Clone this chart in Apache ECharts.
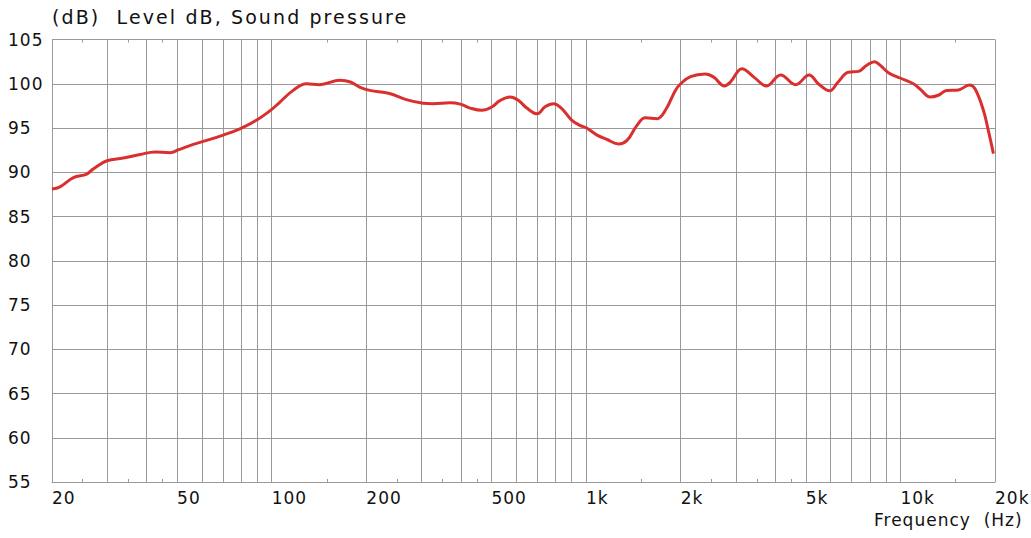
<!DOCTYPE html>
<html>
<head>
<meta charset="utf-8">
<script src="https://cdn.jsdelivr.net/npm/echarts@6/dist/echarts.min.js"></script>
<style>
html,body{margin:0;padding:0;background:#fff;}
#c{width:1031px;height:538px;}
#c svg text{white-space:pre;}
</style>
</head>
<body>
<div id="c"></div>
<script>
// Frequency (Hz) and sound pressure level (dB)
const freqHz = [20, 21.2, 23.4, 25.8, 27.1, 29.9, 33.7, 38.1, 42.5, 47.5, 50.6, 56.3, 62.1, 70.1, 79.2, 89.6,
  100, 106, 117, 129, 142, 165, 178, 191, 205, 237, 268, 303, 326, 369, 398, 428, 466, 503, 532, 574, 610, 648,
  700, 741, 788, 837, 900, 956, 1004, 1084, 1166, 1270, 1350, 1452, 1544, 1682, 1788, 1924, 2000, 2150, 2393,
  2548, 2756, 2880, 3134, 3420, 3754, 4158, 4644, 5126, 5480, 5952, 6338, 6828, 7356, 7820, 8280, 8618, 9160,
  9978, 11000, 11560, 12430, 13200, 14050, 15300, 16580, 17290, 18370, 19050, 19770];
const levelDb = [88.1, 88.35, 89.4, 89.8, 90.4, 91.3, 91.6, 92.0, 92.3, 92.2, 92.55, 93.15, 93.6, 94.2, 94.9, 95.9,
  97.1, 97.9, 99.25, 100.0, 99.9, 100.4, 100.2, 99.6, 99.25, 98.9, 98.2, 97.8, 97.75, 97.85, 97.7, 97.25, 97.0,
  97.4, 98.1, 98.5, 98.1, 97.25, 96.6, 97.4, 97.75, 97.2, 95.9, 95.3, 95.0, 94.2, 93.7, 93.2, 93.6, 95.3, 96.15,
  96.05, 97.0, 99.25, 100.0, 100.8, 101.1, 100.75, 99.75, 100.2, 101.7, 100.75, 99.75, 101.0, 99.9, 101.0, 100.0,
  99.2, 100.2, 101.3, 101.4, 102.1, 102.5, 102.1, 101.25, 100.65, 100.0, 99.4, 98.5, 98.7, 99.25, 99.3, 99.85,
  99.4, 97.0, 94.7, 92.1];
const gridFreqs = [20, 30, 40, 50, 60, 70, 80, 90, 100, 200, 300, 400, 500, 600, 700, 800, 900,
  1000, 2000, 3000, 4000, 5000, 6000, 7000, 8000, 9000, 10000, 20000];
const labelFreqs = [20, 50, 100, 200, 500, 1000, 2000, 5000, 10000, 20000];
const labelTexts = ['20', '50', '100', '200', '500', '1k', '2k', '5k', '10k', '20k'];
const minorFreqs = [25, 35, 45, 150, 250, 350, 450, 1500, 2500, 3500, 4500, 15000];
const titleText = '(dB)  Level dB, Sound pressure';
const xNameText = 'Frequency  (Hz)';

const FONT = 'DejaVu Sans';
const LINE = '#999999';
const TXT = '#111111';
const chart = echarts.init(document.getElementById('c'), null, {renderer: 'svg'});

const labelMap = {};
labelFreqs.forEach((f, i) => { labelMap[f] = labelTexts[i]; });

const minorAxis = (pos) => ({
  type: 'log', logBase: 10, min: 20, max: 20000, position: pos, gridIndex: 0,
  axisLine: {show: false},
  axisTick: {show: true, inside: true, length: 3, customValues: minorFreqs, lineStyle: {color: LINE}},
  axisLabel: {show: false},
  splitLine: {show: false}
});

chart.setOption({
  animation: false,
  backgroundColor: '#fff',
  title: [
    {text: titleText, left: 52, top: 7, padding: 0,
     textStyle: {fontFamily: FONT, fontSize: 19, fontWeight: 'normal', color: TXT}},
    {text: xNameText, left: 874, top: 511, padding: 0,
     textStyle: {fontFamily: FONT, fontSize: 17, fontWeight: 'normal', color: TXT}}
  ],
  grid: {left: 52, right: 36, top: 39.5, bottom: 56, containLabel: false},
  xAxis: [
    {
      type: 'log', logBase: 10, min: 20, max: 20000, position: 'bottom',
      axisLine: {show: true, lineStyle: {color: LINE, width: 1}},
      axisTick: {show: false, customValues: gridFreqs},
      axisLabel: {
        show: true, customValues: labelFreqs, align: 'left', margin: 7,
        fontFamily: FONT, fontSize: 17, color: TXT,
        formatter: (v) => labelMap[Math.round(v)] || ''
      },
      splitLine: {show: true, lineStyle: {color: LINE, width: 1}}
    },
    minorAxis('bottom'),
    minorAxis('top')
  ],
  yAxis: {
    type: 'value', min: 55, max: 105, interval: 5,
    axisLine: {show: true, lineStyle: {color: LINE, width: 1}},
    axisTick: {show: false},
    axisLabel: {
      align: 'left', margin: 44, verticalAlign: 'middle', padding: [0, 0, 7, 0],
      fontFamily: FONT, fontSize: 17, color: TXT
    },
    splitLine: {show: true, lineStyle: {color: LINE, width: 1}}
  },
  series: [{
    type: 'line', xAxisIndex: 0,
    data: freqHz.map((f, i) => [f, levelDb[i]]),
    smooth: 0.4, symbol: 'none',
    lineStyle: {color: '#d9302f', width: 3},
    z: 5
  }]
});

function applySpacing() {
  document.querySelectorAll('#c svg text').forEach(t => {
    const s = t.textContent || '';
    if (s.indexOf('Level') >= 0) t.style.letterSpacing = '2.1px';
    else t.style.letterSpacing = '1px';
  });
}
chart.on('finished', applySpacing);
applySpacing();
</script>
</body>
</html>
